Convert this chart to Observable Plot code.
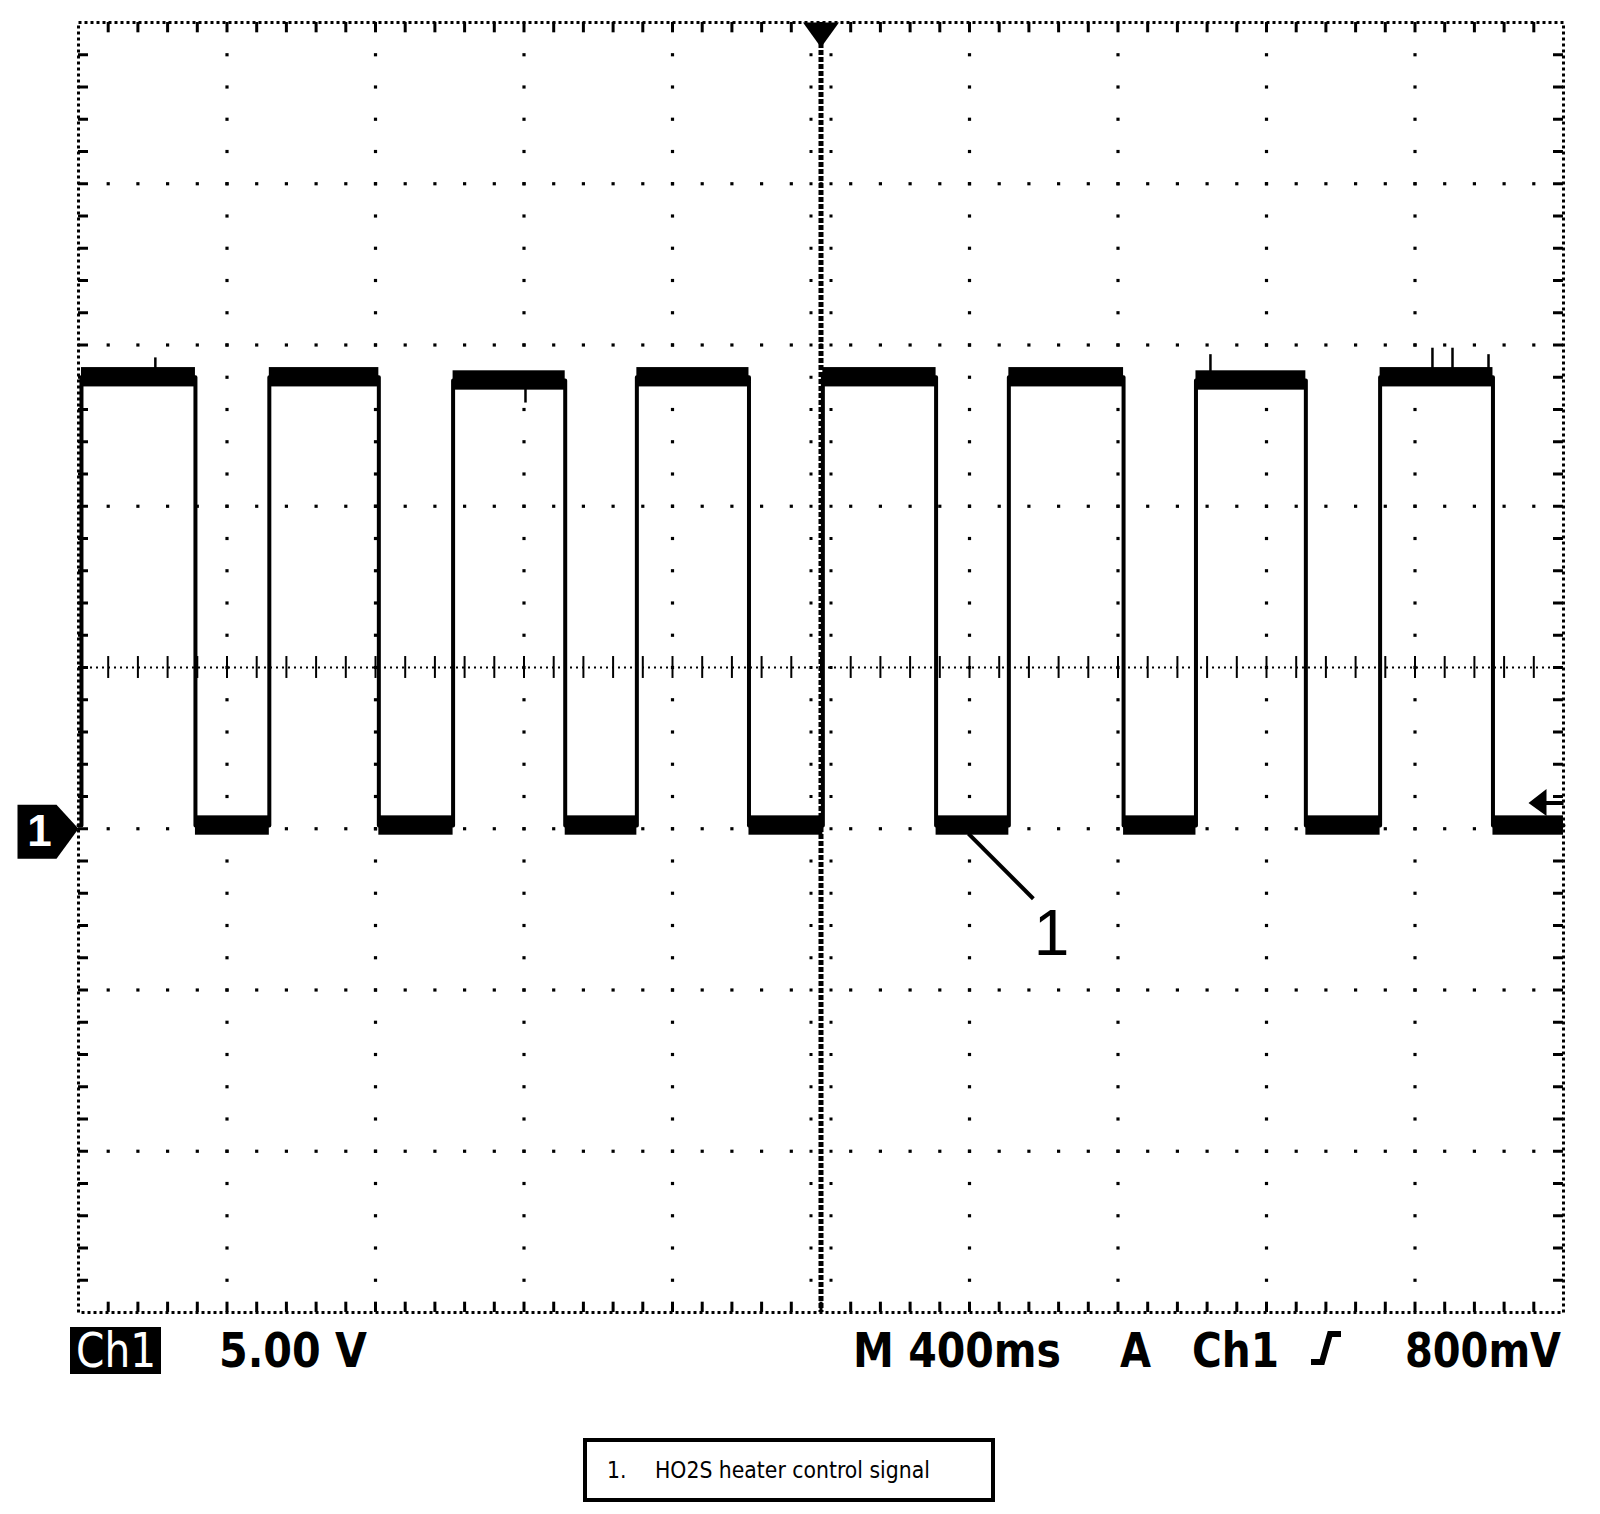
<!DOCTYPE html>
<html>
<head>
<meta charset="utf-8">
<script src="https://cdn.jsdelivr.net/npm/d3@7"></script>
<script src="https://cdn.jsdelivr.net/npm/@observablehq/plot@0.6"></script>
<style>
  html, body { margin: 0; padding: 0; background: #fff; overflow: hidden; }
  #wrap { position: relative; width: 1600px; height: 1514px; }
  #chart { position: absolute; left: 0; top: 0; }
  #readout { position: absolute; left: 0; top: 1320px; }
  #legend {
    position: absolute; left: 583px; top: 1438px; width: 412px; height: 64px;
    border: 4px solid #000; box-sizing: border-box;
    font-family: "DejaVu Sans Condensed", "DejaVu Sans", sans-serif; font-size: 22.7px; color: #000;
  }
  #legend .num { position: absolute; left: 20px; top: 15px; }
  #legend .lbl { position: absolute; left: 68px; top: 15px; }
</style>
</head>
<body>
<div id="wrap">
  <div id="chart"></div>
  <svg id="readout" width="1600" height="70" xmlns="http://www.w3.org/2000/svg"
       font-family="'Liberation Sans Narrow', 'DejaVu Sans Condensed', 'Liberation Sans', sans-serif"
       font-weight="bold" font-size="48">
    <rect x="70" y="7" width="91" height="47" fill="#000"></rect>
    <text x="76" y="47" fill="#fff" font-weight="normal" textLength="80" lengthAdjust="spacingAndGlyphs">Ch1</text>
    <text x="219" y="47" fill="#000" textLength="148" lengthAdjust="spacingAndGlyphs">5.00 V</text>
    <text x="853" y="47" fill="#000" textLength="208" lengthAdjust="spacingAndGlyphs">M 400ms</text>
    <text x="1120" y="47" fill="#000" textLength="31" lengthAdjust="spacingAndGlyphs">A</text>
    <text x="1192" y="47" fill="#000" textLength="87" lengthAdjust="spacingAndGlyphs">Ch1</text>
    <path d="M1311,42 L1322,42 L1330,14 L1341,14" fill="none" stroke="#000" stroke-width="6"></path>
    <text x="1405" y="47" fill="#000" textLength="156" lengthAdjust="spacingAndGlyphs">800mV</text>
  </svg>
  <div id="legend"><span class="num">1.</span><span class="lbl">HO2S heater control signal</span></div>
</div>
<script>
// ---- scope settings (Ch1 5.00 V/div, M 400 ms/div, trigger Ch1 rising 800 mV) ----
const timeDomain = [0, 4000];        // ms, 10 divisions x 400 ms
const voltDomain = [-15, 25];        // V, 8 divisions x 5 V, ground 1 div below centre
const triggerTime = 2000;            // ms (centre of screen)
const triggerLevel = 0.8;            // V
const groundLevel = 0;               // V

// ---- HO2S heater control signal ----
const riseTimes  = [8, 514, 1009, 1504, 2005, 2506, 3010, 3506];     // ms
const fallTimes  = [315, 809, 1311, 1806, 2310, 2815, 3306, 3810];   // ms
const highLevels = [14.0, 14.0, 13.9, 14.0, 14.0, 14.0, 13.9, 14.0]; // V
const lowLevel   = 0.1;   // V
const noiseHalf  = 0.3;   // V, half-thickness of the noisy trace band

// occasional spikes on the trace
const spikeTimes  = [207, 1204, 3049, 3647, 3701, 3798];
const spikeBase   = [14.0, 13.9, 13.9, 14.0, 14.0, 14.0];
const spikeValues = [14.6, 13.2, 14.7, 14.9, 14.9, 14.7];

// callout "1"
const calloutFrom = {t: 2397, v: -0.15};
const calloutTo   = {t: 2572, v: -2.17};
const calloutText = {t: 2621, v: -3.29, label: "1"};

// ---- derived tables ----
const trace = [{t: timeDomain[0], v: lowLevel}];
riseTimes.forEach((r, i) => {
  trace.push({t: r, v: highLevels[i]});
  trace.push({t: fallTimes[i], v: lowLevel});
});
trace.push({t: timeDomain[1], v: lowLevel});

const highBands = riseTimes.map((r, i) => ({t1: r, t2: fallTimes[i], lo: highLevels[i] - noiseHalf, hi: highLevels[i] + noiseHalf}));
const lowBands = fallTimes.map((f, i) => ({t1: f, t2: i + 1 < riseTimes.length ? riseTimes[i + 1] : timeDomain[1], lo: lowLevel - noiseHalf, hi: lowLevel + noiseHalf}));
const spikes = spikeTimes.map((t, i) => ({t, base: spikeBase[i], v: spikeValues[i]}));

// graticule
const tMinor = d3.range(timeDomain[0], timeDomain[1] + 1, 80);   // 0.2 div
const vMinor = d3.range(voltDomain[0], voltDomain[1] + 0.5, 1);  // 0.2 div
const tMajor = d3.range(timeDomain[0], timeDomain[1] + 1, 400);
const vMajor = d3.range(voltDomain[0], voltDomain[1] + 0.5, 5);
const centreV = (voltDomain[0] + voltDomain[1]) / 2;

const innerT = tMinor.filter(t => t > timeDomain[0] && t < timeDomain[1]);
const innerV = vMinor.filter(v => v > voltDomain[0] && v < voltDomain[1]);
const gridDots = [];
vMajor.filter(v => v > voltDomain[0] && v < voltDomain[1] && v !== centreV)
  .forEach(v => innerT.forEach(t => gridDots.push({t, v})));
tMajor.filter(t => t > timeDomain[0] && t < timeDomain[1] && t !== triggerTime)
  .forEach(t => innerV.forEach(v => gridDots.push({t, v})));

const tickLenT = 27;    // ms  (~10 px)
const tickLenV = 0.32;  // V   (~10 px)

// custom marker shapes
const shape = (pts) => ({draw(ctx) { ctx.moveTo(pts[0][0], pts[0][1]); for (const p of pts.slice(1)) ctx.lineTo(p[0], p[1]); ctx.closePath(); }});
const trigMarker = shape([[-18, 0], [18, 0], [0, 25]]);
const chMarker = shape([[0, 0], [-22, -24], [-61, -24], [-61, 30], [-22, 30]]);
const levelMarker = shape([[-35, 0], [-17, -14], [-17, -2], [0, -2], [0, 2], [-17, 2], [-17, 13]]);

const chart = Plot.plot({
  width: 1600,
  height: 1320,
  marginTop: 22,
  marginBottom: 8,
  marginLeft: 78,
  marginRight: 37,
  x: {domain: timeDomain, axis: null},
  y: {domain: voltDomain, axis: null},
  style: {background: "#fff", overflow: "visible"},
  marks: [
    // graticule dots
    Plot.dot(gridDots, {x: "t", y: "v", r: 1.8, symbol: "square", fill: "#000"}),
    // centre crosshair
    Plot.ruleY([centreV], {stroke: "#000", strokeWidth: 2, strokeDasharray: "2,4"}),
    Plot.ruleX(innerT, {x: d => d, y1: centreV - 0.34, y2: centreV + 0.34, stroke: "#000", strokeWidth: 2}),
    Plot.ruleX([triggerTime], {stroke: "#000", strokeWidth: 5, strokeDasharray: "5,2"}),
    Plot.dot(innerV, {x: triggerTime, y: d => d, dx: -10, r: 1.7, symbol: "square", fill: "#000"}),
    Plot.dot(innerV, {x: triggerTime, y: d => d, dx: 10, r: 1.7, symbol: "square", fill: "#000"}),
    // border with inward ticks
    Plot.frame({stroke: "#000", strokeWidth: 3, strokeDasharray: "3,3"}),
    Plot.ruleX(innerT, {x: d => d, y1: voltDomain[1], y2: voltDomain[1] - tickLenV, stroke: "#000", strokeWidth: 3}),
    Plot.ruleX(innerT, {x: d => d, y1: voltDomain[0], y2: voltDomain[0] + tickLenV, stroke: "#000", strokeWidth: 3}),
    Plot.ruleY(innerV, {y: d => d, x1: timeDomain[0], x2: timeDomain[0] + tickLenT, stroke: "#000", strokeWidth: 3}),
    Plot.ruleY(innerV, {y: d => d, x1: timeDomain[1], x2: timeDomain[1] - tickLenT, stroke: "#000", strokeWidth: 3}),
    // signal trace
    Plot.rect(highBands, {x1: "t1", x2: "t2", y1: "lo", y2: "hi", fill: "#000"}),
    Plot.rect(lowBands, {x1: "t1", x2: "t2", y1: "lo", y2: "hi", fill: "#000"}),
    Plot.ruleX(spikes, {x: "t", y1: "base", y2: "v", stroke: "#000", strokeWidth: 2.5}),
    Plot.line(trace, {x: "t", y: "v", curve: "step-after", stroke: "#000", strokeWidth: 4}),
    // markers
    Plot.dot([triggerTime], {x: d => d, y: voltDomain[1], symbol: trigMarker, fill: "#000", stroke: "none"}),
    Plot.dot([groundLevel], {x: timeDomain[0], y: d => d, symbol: chMarker, fill: "#000", stroke: "none"}),
    Plot.text(["1"], {x: timeDomain[0], y: groundLevel, dx: -39, dy: 3, fill: "#fff", fontSize: 44, fontWeight: "bold", fontFamily: "Liberation Sans, Arial, sans-serif"}),
    Plot.dot([triggerLevel], {x: timeDomain[1], y: d => d, symbol: levelMarker, fill: "#000", stroke: "none"}),
    // callout
    Plot.link([calloutFrom], {x1: "t", y1: "v", x2: () => calloutTo.t, y2: () => calloutTo.v, stroke: "#000", strokeWidth: 4}),
    Plot.text([calloutText], {x: "t", y: "v", text: "label", fontSize: 64, fontFamily: "Liberation Sans, Arial, sans-serif", fill: "#000"})
  ]
});
document.getElementById("chart").appendChild(chart);
</script>
</body>
</html>
